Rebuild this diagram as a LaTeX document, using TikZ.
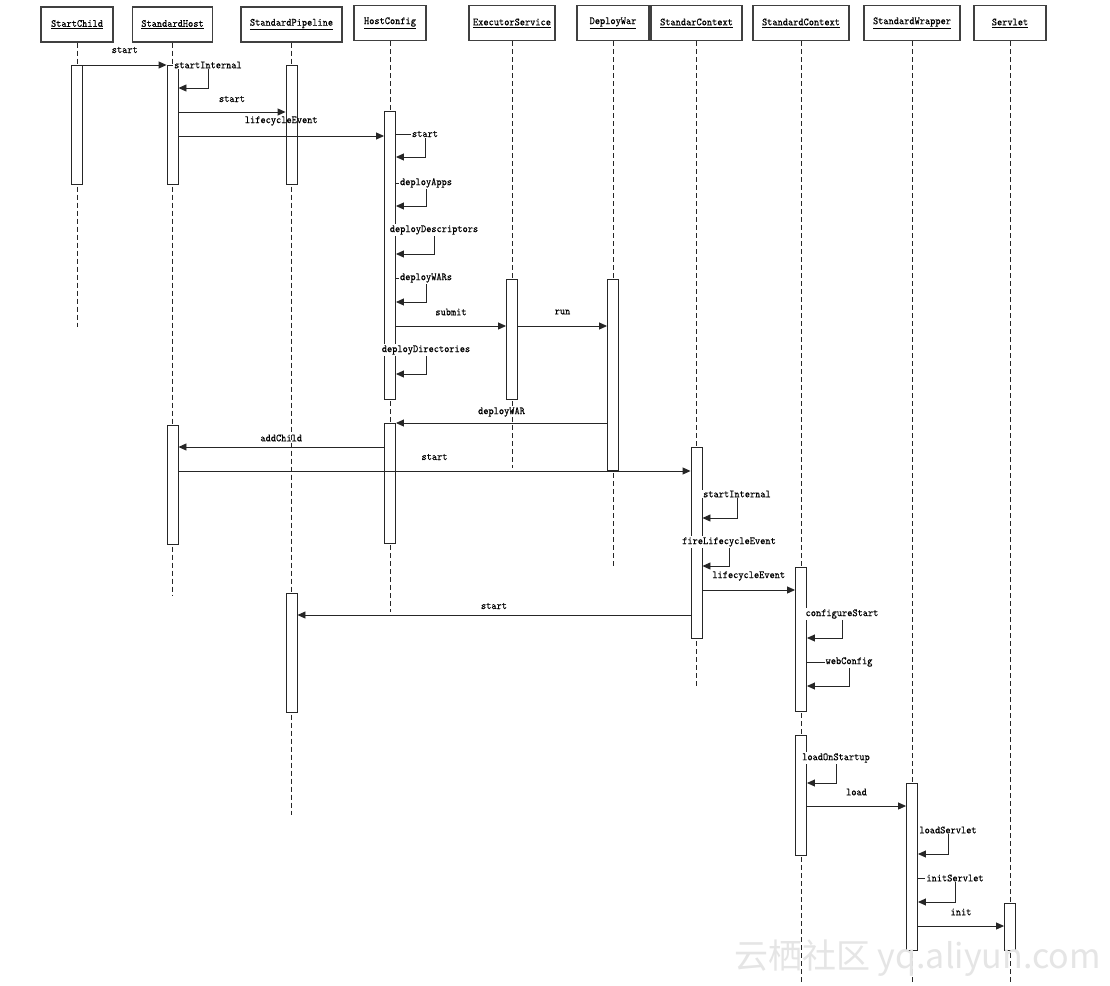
\documentclass[tikz,border=0pt]{standalone}
\usepackage{fontspec}
\newfontfamily\cjkwm{Noto Sans CJK SC}
\newfontfamily\lbfont{lmmono10-regular.otf}[FakeStretch=0.9, FakeBold=0.2]
\usetikzlibrary{arrows.meta}
\newcommand\selfmsg[5]{%
  \draw[msg] (#1.east |- 0,#2) -- (#3,#2) node[slbl] {#5} -- (#3,#4) -- (#1.east |- 0,#4);}
\begin{document}
\begin{tikzpicture}[x=1pt,y=-1pt,
  hdr/.style={draw=black!75, line width=1.1pt, minimum height=35pt, inner sep=0pt, fill=white,
              font=\lbfont\fontsize{11}{13}\selectfont},
  act/.style={draw=black!85, line width=0.9pt, fill=white, minimum width=11pt, inner sep=0pt, anchor=north},
  life/.style={draw=black!85, dash pattern=on 5pt off 3pt, line width=0.9pt},
  msg/.style={draw=black!85, line width=0.9pt, -{Triangle[length=8pt,width=7pt]}},
  lbl/.style={font=\lbfont\fontsize{11}{13}\selectfont, inner sep=1pt, text=black},
  slbl/.style={lbl, fill=white}
]
\useasboundingbox[fill=white] (0,0) rectangle (1110,985);

% headers
\node[hdr, minimum width=72pt]  (hSC)  at (77,24.5)   {\underline{StartChild}};
\node[hdr, minimum width=80pt]  (hSH)  at (172.5,24.5){\underline{StandardHost}};
\node[hdr, minimum width=101pt] (hSP)  at (291.5,24.5){\underline{StandardPipeline}};
\node[hdr, minimum width=72pt]  (hHC)  at (390,23)    {\underline{HostConfig}};
\node[hdr, minimum width=86pt]  (hES)  at (512,23)    {\underline{ExecutorService}};
\node[hdr, minimum width=72pt]  (hDW)  at (613,23)    {\underline{DeployWar}};
\node[hdr, minimum width=91pt]  (hSTC) at (696.5,23)  {\underline{StandarContext}};
\node[hdr, minimum width=96pt]  (hSDC) at (801,23)    {\underline{StandardContext}};
\node[hdr, minimum width=96pt]  (hSW)  at (912,23)    {\underline{StandardWrapper}};
\node[hdr, minimum width=72pt]  (hSV)  at (1010,23)   {\underline{Servlet}};

% lifeline ends
\coordinate (eSC)  at (77,327);
\coordinate (eSH)  at (172.5,596);
\coordinate (eSP)  at (291.5,815);
\coordinate (eHC)  at (390,612);
\coordinate (eES)  at (512,468);
\coordinate (eDW)  at (613,566);
\coordinate (eSTC) at (696.5,686);
\coordinate (eSDC) at (801,985);
\coordinate (eSW)  at (912,985);
\coordinate (eSV)  at (1010,985);

\draw[life] (hSC.south) -- (eSC);
\draw[life] (hSH.south) -- (eSH);
\draw[life] (hSP.south) -- (eSP);
\draw[life] (hHC.south) -- (eHC);
\draw[life] (hES.south) -- (eES);
\draw[life] (hDW.south) -- (eDW);
\draw[life] (hSTC.south) -- (eSTC);
\draw[life] (hSDC.south) -- (eSDC);
\draw[life] (hSW.south) -- (eSW);
\draw[life] (hSV.south) -- (eSV);

% activations
\node[act, minimum height=119pt] (aSC)   at (77,65) {};
\node[act, minimum height=119pt] (aSH1)  at (172.5,65) {};
\node[act, minimum height=119pt] (aSH2)  at (172.5,425) {};
\node[act, minimum height=119pt] (aSP1)  at (291.5,65) {};
\node[act, minimum height=119pt] (aSP2)  at (291.5,593) {};
\node[act, minimum height=288pt] (aHC1)  at (390,111) {};
\node[act, minimum height=120pt] (aHC2)  at (390,423) {};
\node[act, minimum height=120pt] (aES)   at (512,279) {};
\node[act, minimum height=191pt] (aDW)   at (613,279) {};
\node[act, minimum height=191pt] (aSTC)  at (696.5,447) {};
\node[act, minimum height=144pt] (aSDC1) at (801,567) {};
\node[act, minimum height=120pt] (aSDC2) at (801,735) {};
\node[act, minimum height=167pt] (aSW)   at (912,783) {};
\node[act, minimum height=47pt]  (aSV)   at (1010,903) {};

% messages
\draw[msg] (aSC.east |- 0,65) -- node[lbl, yshift=15pt] {start} (aSH1.west |- 0,65);
\selfmsg{aSH1}{65}{208}{88}{startInternal}
\draw[msg] (aSH1.east |- 0,112) -- node[lbl, yshift=13pt] {start} (aSP1.west |- 0,112);
\draw[msg] (aSH1.east |- 0,136) -- node[lbl, yshift=15pt] {lifecycleEvent} (aHC1.west |- 0,136);
\selfmsg{aHC1}{134}{425}{157}{start}
\selfmsg{aHC1}{183}{426}{206}{deployApps}
\selfmsg{aHC1}{230}{434}{254}{deployDescriptors}
\selfmsg{aHC1}{278}{426}{302}{deployWARs}
\draw[msg] (aHC1.east |- 0,326) -- node[lbl, yshift=14pt] {submit} (aES.west |- 0,326);
\draw[msg] (aES.east |- 0,326) -- node[lbl, yshift=14pt] {run} (aDW.west |- 0,326);
\selfmsg{aHC1}{350}{426}{374}{deployDirectories}
\draw[msg] (aDW.west |- 0,423) -- node[lbl, yshift=11pt] {deployWAR} (aHC2.east |- 0,423);
\draw[msg] (aHC2.west |- 0,447) -- node[lbl, yshift=9pt] {addChild} (aSH2.east |- 0,447);
\draw[msg] (aSH2.east |- 0,471) -- node[lbl, yshift=14pt] {start} (aSTC.west |- 0,471);
\selfmsg{aSTC}{494}{737}{518}{startInternal}
\selfmsg{aSTC}{542}{729}{566}{fireLifecycleEvent}
\draw[msg] (aSTC.east |- 0,590) -- node[lbl, yshift=14pt] {lifecycleEvent} (aSDC1.west |- 0,590);
\draw[msg] (aSTC.west |- 0,615) -- node[lbl, yshift=9pt] {start} (aSP2.east |- 0,615);
\selfmsg{aSDC1}{614}{842}{638}{configureStart}
\selfmsg{aSDC1}{662}{849}{686}{webConfig}
\selfmsg{aSDC2}{758}{836}{783}{loadOnStartup}
\draw[msg] (aSDC2.east |- 0,806) -- node[lbl, yshift=14pt] {load} (aSW.west |- 0,806);
\selfmsg{aSW}{830}{948}{854}{loadServlet}
\selfmsg{aSW}{878}{955}{902}{initServlet}
\draw[msg] (aSW.east |- 0,926) -- node[lbl, yshift=14pt] {init} (aSV.west |- 0,926);

% watermark
\node[text=black!10, font=\cjkwm\fontsize{34}{34}\selectfont, anchor=east, inner sep=0pt] (wm) at (1101,958) {云栖社区 yq.aliyun.com};
\end{tikzpicture}
\end{document}
